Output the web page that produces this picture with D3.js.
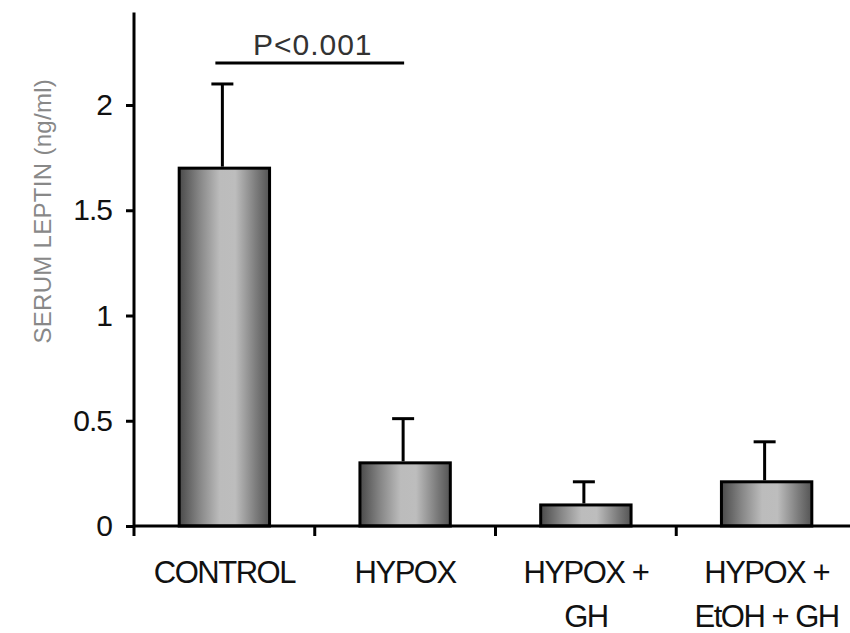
<!DOCTYPE html>
<html>
<head>
<meta charset="utf-8">
<script src="https://cdn.jsdelivr.net/npm/d3@7"></script>
<style>
  body { margin: 0; background: #fff; }
  text { font-family: "Liberation Sans", Arial, sans-serif; }
</style>
</head>
<body>
<div id="chart"></div>
<script>
// values
const categories = ["CONTROL", "HYPOX", "HYPOX + GH", "HYPOX + EtOH + GH"];
const labelLines = [["CONTROL"], ["HYPOX"], ["HYPOX +", "GH"], ["HYPOX +", "EtOH + GH"]];
const means = [1.70, 0.30, 0.10, 0.21];
const errors = [0.40, 0.21, 0.11, 0.19];  // upper error (SEM)
const yTicks = [0, 0.5, 1, 1.5, 2];
const sigPair = ["CONTROL", "HYPOX"];
const sigLabel = "P<0.001";
const sigLevel = 2.2;

const width = 850, height = 633;

const svg = d3.select("#chart")
  .append("svg")
    .attr("width", width)
    .attr("height", height);

const x = d3.scaleBand()
  .domain(categories)
  .range([134, 857])
  .paddingInner(0.5)
  .paddingOuter(0.25);

const y = d3.scaleLinear()
  .domain([0, 2.44])
  .range([526, 12.4]);

// bar fill: dark edges, light middle
const grad = svg.append("defs").append("linearGradient")
  .attr("id", "barGrad")
  .attr("x1", "0%").attr("x2", "100%")
  .attr("y1", "0%").attr("y2", "0%");
[[0, "#4a4a4a"], [0.22, "#858585"], [0.45, "#bcbcbc"], [0.62, "#bdbdbd"],
 [0.85, "#7c7c7c"], [1, "#545454"]].forEach(([o, c]) => {
  grad.append("stop").attr("offset", o).attr("stop-color", c);
});

const step = x.step();
const center = (c) => x(c) + x.bandwidth() / 2;

// bars
svg.append("g")
  .selectAll("rect")
  .data(categories)
  .join("rect")
    .attr("x", (d) => x(d))
    .attr("y", (d, i) => y(means[i]))
    .attr("width", x.bandwidth())
    .attr("height", (d, i) => y(0) - y(means[i]))
    .attr("fill", "url(#barGrad)")
    .attr("stroke", "#000")
    .attr("stroke-width", 3);

// error bars (upper only)
const err = svg.append("g").attr("stroke", "#000").attr("stroke-width", 3);
categories.forEach((c, i) => {
  const cx = center(c) - 2;
  const top = y(means[i] + errors[i]);
  err.append("line")
    .attr("x1", cx).attr("x2", cx)
    .attr("y1", y(means[i]) - 1.5).attr("y2", top);
  err.append("line")
    .attr("x1", cx - 11).attr("x2", cx + 11)
    .attr("y1", top).attr("y2", top);
});

// y axis
const yAxis = d3.axisLeft(y)
  .tickValues(yTicks)
  .tickFormat(d3.format("~g"))
  .tickSize(8)
  .tickPadding(14);

const gy = svg.append("g")
  .attr("transform", "translate(134,0)")
  .call(yAxis);
gy.select(".domain").remove();
gy.selectAll(".tick line").attr("stroke", "#000").attr("stroke-width", 3);
gy.selectAll(".tick text")
  .attr("fill", "#111")
  .style("font-size", "30px")
  .style("letter-spacing", "-1px");

svg.append("line")
  .attr("x1", 134).attr("x2", 134)
  .attr("y1", y(2.44)).attr("y2", y(0) + 10)
  .attr("stroke", "#000").attr("stroke-width", 3);

// x axis line and boundary ticks
svg.append("line")
  .attr("x1", 134).attr("x2", width)
  .attr("y1", y(0)).attr("y2", y(0))
  .attr("stroke", "#000").attr("stroke-width", 3);

svg.append("g")
  .selectAll("line")
  .data(categories.slice(1))
  .join("line")
    .attr("x1", (d) => center(d) - step / 2)
    .attr("x2", (d) => center(d) - step / 2)
    .attr("y1", y(0))
    .attr("y2", y(0) + 10)
    .attr("stroke", "#000")
    .attr("stroke-width", 3);

// category labels
const lab = svg.append("g")
  .attr("text-anchor", "middle")
  .attr("fill", "#111")
  .style("font-size", "31px")
  .style("letter-spacing", "-1.5px");
categories.forEach((c, i) => {
  labelLines[i].forEach((t, k) => {
    lab.append("text")
      .attr("x", center(c))
      .attr("y", 583 + k * 44)
      .text(t);
  });
});

// y title
svg.append("text")
  .attr("transform", "translate(51," + ((y(0) + y(2.44)) / 2 - 58) + ") rotate(-90)")
  .attr("text-anchor", "middle")
  .attr("fill", "#888")
  .style("font-size", "24px")
  .style("letter-spacing", "0.3px")
  .text("SERUM LEPTIN (ng/ml)");

// significance bracket
const sx1 = center(sigPair[0]) - 9;
const sx2 = center(sigPair[1]) - 1;
svg.append("line")
  .attr("x1", sx1).attr("x2", sx2)
  .attr("y1", y(sigLevel)).attr("y2", y(sigLevel))
  .attr("stroke", "#000").attr("stroke-width", 3);
svg.append("text")
  .attr("x", (sx1 + sx2) / 2 + 3)
  .attr("y", y(sigLevel) - 8)
  .attr("text-anchor", "middle")
  .attr("fill", "#333")
  .style("font-size", "30px")
  .style("letter-spacing", "1px")
  .text(sigLabel);
</script>
</body>
</html>
